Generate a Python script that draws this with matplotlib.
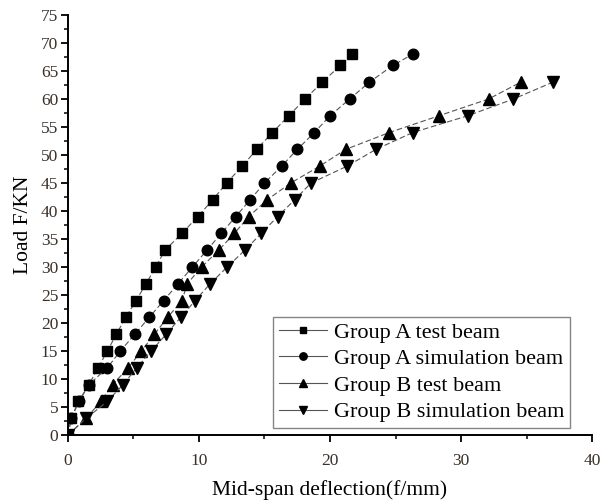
import matplotlib
matplotlib.use("Agg")
import matplotlib.pyplot as plt
from matplotlib.ticker import MultipleLocator

plt.rcParams['font.family'] = ['Liberation Serif', 'DejaVu Serif']
plt.rcParams['mathtext.fontset'] = 'stix'

# Data
a_test_x = [0, 0.25, 0.8, 1.6, 2.3, 3.0, 3.7, 4.4, 5.2, 5.95, 6.7, 7.4, 8.7, 9.9,
            11.05, 12.1, 13.3, 14.4, 15.6, 16.85, 18.1, 19.4, 20.8, 21.7]
a_test_y = [0, 3, 6, 9, 12, 15, 18, 21, 24, 27, 30, 33, 36, 39, 42, 45, 48, 51,
            54, 57, 60, 63, 66, 68]
a_sim_x = [0, 0.25, 0.85, 1.6, 3.0, 4.0, 5.1, 6.2, 7.3, 8.4, 9.5, 10.6, 11.7, 12.8,
           13.9, 15.0, 16.3, 17.5, 18.8, 20.0, 21.5, 23.0, 24.8, 26.3]
a_sim_y = [0, 3, 6, 9, 12, 15, 18, 21, 24, 27, 30, 33, 36, 39, 42, 45, 48, 51,
           54, 57, 60, 63, 66, 68]
b_test_x = [0, 1.4, 2.5, 3.4, 4.6, 5.6, 6.6, 7.6, 8.7, 9.1, 10.2, 11.5, 12.7, 13.8,
            15.2, 17.0, 19.2, 21.2, 24.5, 28.3, 32.1, 34.55]
b_test_y = [0, 3, 6, 9, 12, 15, 18, 21, 24, 27, 30, 33, 36, 39, 42, 45, 48, 51,
            54, 57, 60, 63]
b_sim_x = [0, 1.4, 3.0, 4.2, 5.25, 6.35, 7.5, 8.6, 9.7, 10.85, 12.15, 13.5, 14.75,
           16.0, 17.3, 18.55, 21.3, 23.5, 26.3, 30.5, 34.0, 37.0]
b_sim_y = [0, 3, 6, 9, 12, 15, 18, 21, 24, 27, 30, 33, 36, 39, 42, 45, 48, 51,
           54, 57, 60, 63]

labels = ["Group A test beam", "Group A simulation beam",
          "Group B test beam", "Group B simulation beam"]
xlabel = "Mid-span deflection(f/mm)"
ylabel = "Load F/KN"

fig = plt.figure(figsize=(6.0, 5.01), dpi=100)
ax = fig.add_axes([0.1133, 0.1317, 0.8734, 0.8383])

series = [(a_test_x, a_test_y, 's', 7.0), (a_sim_x, a_sim_y, 'o', 7.6),
          (b_test_x, b_test_y, '^', 8.5), (b_sim_x, b_sim_y, 'v', 8.5)]
for (xs, ys, m, ms), lab in zip(series, labels):
    ax.plot(xs, ys, linestyle=(0, (5, 2.5)), color='#555555', linewidth=0.8,
            marker=m, markersize=ms, markerfacecolor='black',
            markeredgecolor='black', label=lab)

ax.set_xlim(0, 40)
ax.set_ylim(0, 75)
ax.xaxis.set_major_locator(MultipleLocator(10))
ax.xaxis.set_minor_locator(MultipleLocator(5))
ax.yaxis.set_major_locator(MultipleLocator(5))
ax.yaxis.set_minor_locator(MultipleLocator(2.5))

for s in ['top', 'right']:
    ax.spines[s].set_visible(False)
for s in ['left', 'bottom']:
    ax.spines[s].set_linewidth(1.4)

ax.tick_params(which='major', direction='out', length=5, width=1.3,
               labelsize=12.5, labelcolor='#3a3028')
ax.tick_params(which='minor', direction='out', length=3, width=1.1)
ax.tick_params(axis='x', which='major', pad=8)
ax.tick_params(axis='y', which='major', pad=2)

ax.set_xlabel(xlabel, fontsize=15.5, labelpad=8)
ax.set_ylabel(ylabel, fontsize=15.5, labelpad=6)

leg = ax.legend(loc='lower right', bbox_to_anchor=(0.958, 0.017), fontsize=16,
                frameon=True, fancybox=False, edgecolor='#666666',
                handlelength=2.2, handletextpad=0.3, labelspacing=0.27,
                borderpad=0.25, markerscale=0.7, borderaxespad=0)
leg.get_frame().set_linewidth(1.0)
for h in leg.get_lines():
    h.set_linestyle('-')

fig.savefig("out.png", dpi=100)
